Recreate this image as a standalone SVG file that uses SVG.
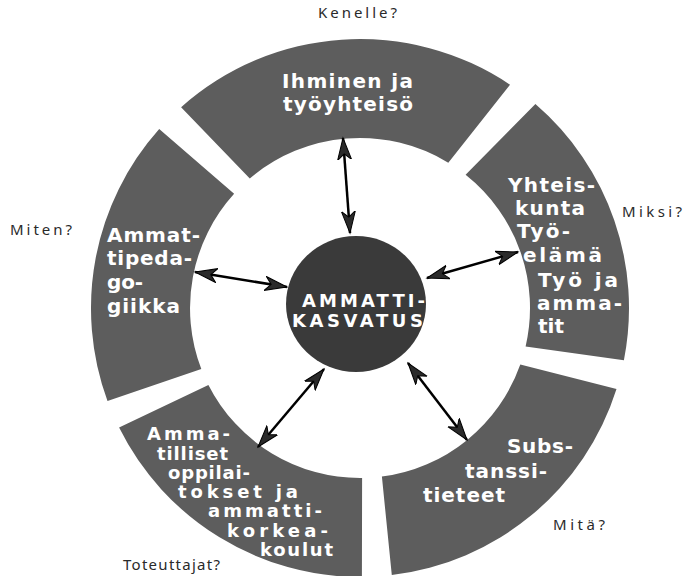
<svg xmlns="http://www.w3.org/2000/svg" width="683" height="576" viewBox="0 0 683 576">
<style>
.seg{fill:#5d5d5d}
.st{font-family:"DejaVu Sans","Liberation Sans",sans-serif;font-weight:bold;font-size:20px;fill:#fff}
.sm{font-size:18px}
.ct{font-family:"DejaVu Sans","Liberation Sans",sans-serif;font-weight:bold;font-size:18px;fill:#fff}
.lb{font-family:"Noto Sans","Open Sans",sans-serif;font-size:15px;fill:#2a2a2a}
.ar{stroke:#000;stroke-width:2.5;fill:none;marker-start:url(#ah);marker-end:url(#ah)}
</style>
<defs>
<marker id="ah" markerUnits="userSpaceOnUse" markerWidth="24" markerHeight="16" refX="22" refY="8" orient="auto-start-reverse" viewBox="0 0 24 16">
<path d="M0,1 L22,8 L0,15 L6,8 Z" fill="#2a2a2a" stroke="#000" stroke-width="1"/>
</marker>
</defs>
<rect width="683" height="576" fill="#fff"/>

<g id="top">
<path class="seg" d="M181.1,107.2 A269,269 0 0,1 510.0,84.7 L448.3,162.7 A170,170 0 0,0 249.8,178.5 Z"/>
<text class="st" x="282" y="88" textLength="131" lengthAdjust="spacing">Ihminen ja</text>
<text class="st" x="283" y="111" textLength="130" lengthAdjust="spacing">työyhteisö</text>
</g>

<g id="right">
<path class="seg" d="M535.4,104.1 A269,269 0 0,1 623.9,360.2 L525.6,346.5 A170,170 0 0,0 465.6,174.8 Z"/>
<text class="st" x="508" y="192" textLength="87" lengthAdjust="spacing">Yhteis-</text>
<text class="st" x="515" y="215" textLength="70" lengthAdjust="spacing">kunta</text>
<text class="st" x="517" y="238" textLength="53" lengthAdjust="spacing">Työ-</text>
<text class="st" x="523" y="262" textLength="79" lengthAdjust="spacing">elämä</text>
<text class="st" x="538" y="287" textLength="80" lengthAdjust="spacing">Työ ja</text>
<text class="st" x="537" y="310" textLength="85" lengthAdjust="spacing">amma-</text>
<text class="st" x="538" y="333" textLength="26" lengthAdjust="spacing">tit</text>
</g>

<g id="bottomright">
<path class="seg" d="M616.5,388.9 A269,269 0 0,1 391.8,575.1 L381.9,476.6 A170,170 0 0,0 520.3,364.5 Z"/>
<text class="st" x="507" y="453" textLength="66" lengthAdjust="spacing">Subs-</text>
<text class="st" x="465" y="478" textLength="82" lengthAdjust="spacing">tanssi-</text>
<text class="st" x="423" y="502" textLength="82" lengthAdjust="spacing">tieteet</text>
</g>

<g id="bottomleft">
<path class="seg" d="M361.9,577 A269,269 0 0,1 119.1,427.6 L208.4,384.9 A170,170 0 0,0 362.1,478 Z"/>
<text class="st sm" x="147" y="440" textLength="83" lengthAdjust="spacing">Amma-</text>
<text class="st sm" x="157" y="460" textLength="71" lengthAdjust="spacing">tilliset</text>
<text class="st sm" x="168" y="479" textLength="82" lengthAdjust="spacing">oppilai-</text>
<text class="st sm" x="178" y="498" textLength="120" lengthAdjust="spacing">tokset ja</text>
<text class="st sm" x="208" y="517" textLength="114" lengthAdjust="spacing">ammatti-</text>
<text class="st sm" x="227" y="537" textLength="101" lengthAdjust="spacing">korkea-</text>
<text class="st sm" x="260" y="556" textLength="73" lengthAdjust="spacing">koulut</text>
</g>

<g id="left">
<path class="seg" d="M107.5,400.9 A269,269 0 0,1 159.2,129.1 L234.1,193.8 A170,170 0 0,0 201.3,368.9 Z"/>
<text class="st" x="107" y="242" textLength="93" lengthAdjust="spacing">Ammat-</text>
<text class="st" x="107" y="265" textLength="85" lengthAdjust="spacing">tipeda-</text>
<text class="st" x="107" y="289" textLength="36" lengthAdjust="spacing">go-</text>
<text class="st" x="107" y="313" textLength="73" lengthAdjust="spacing">giikka</text>
</g>

<g id="center">
<ellipse cx="356" cy="304" rx="70" ry="68" fill="#3a3a3a"/>
<text class="ct" x="302" y="307" textLength="123" lengthAdjust="spacing">AMMATTI-</text>
<text class="ct" x="292" y="327" textLength="131" lengthAdjust="spacing">KASVATUS</text>
</g>

<g id="connectors">
<line class="ar" x1="343" y1="138" x2="350" y2="233"/>
<line class="ar" x1="195" y1="272" x2="287" y2="287"/>
<line class="ar" x1="518" y1="252" x2="427" y2="278"/>
<line class="ar" x1="258" y1="447" x2="324" y2="369"/>
<line class="ar" x1="408" y1="363" x2="467" y2="440"/>
</g>

<g id="labels">
<text class="lb" x="318" y="18" textLength="79" lengthAdjust="spacing">Kenelle?</text>
<text class="lb" x="10" y="235" textLength="62" lengthAdjust="spacing">Miten?</text>
<text class="lb" x="622" y="217" textLength="60" lengthAdjust="spacing">Miksi?</text>
<text class="lb" x="553" y="530" textLength="52" lengthAdjust="spacing">Mitä?</text>
<text class="lb" x="123" y="570" textLength="97" lengthAdjust="spacing">Toteuttajat?</text>
</g>
</svg>
